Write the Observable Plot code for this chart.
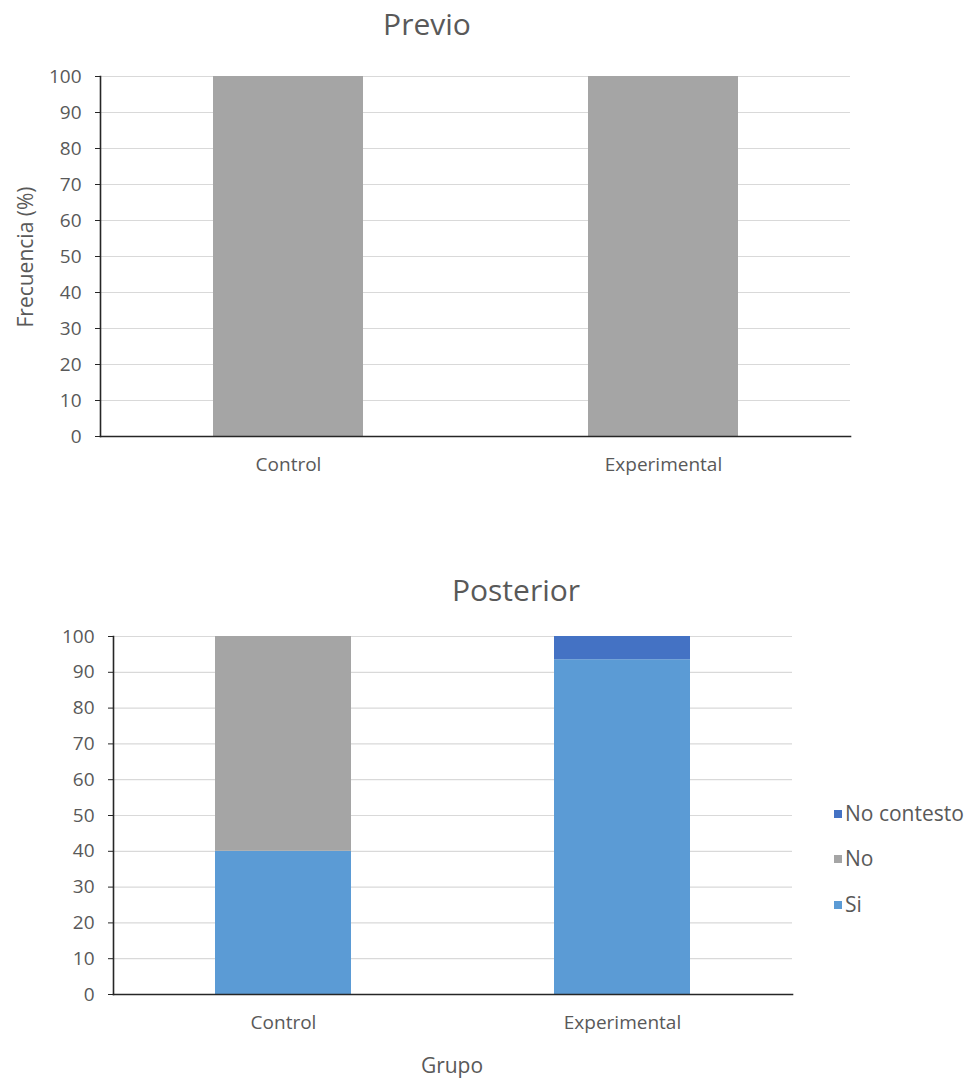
<!DOCTYPE html>
<html>
<head>
<meta charset="utf-8">
<script src="https://cdn.jsdelivr.net/npm/d3@7"></script>
<script src="https://cdn.jsdelivr.net/npm/@observablehq/plot@0.6"></script>
<style>
  html, body { margin: 0; padding: 0; background: #fff; }
  #page { position: relative; width: 977px; height: 1082px; font-family: "Open Sans", sans-serif; color: #595959; overflow: hidden; }
  .abs { position: absolute; line-height: 1; white-space: nowrap; }
  .title { font-size: 30px; transform: translateX(-50%); }
  .legend-item { font-size: 21px; }
  .swatch { position: absolute; width: 8px; height: 8px; }
</style>
</head>
<body>
<div id="page"></div>
<script>
// Groups and response categories
const grupos = ["Control", "Experimental"];
const respuestas = ["Si", "No", "No contesto"];
const colores = ["#5B9BD5", "#A5A5A5", "#4472C4"];
const yTicks = [0, 10, 20, 30, 40, 50, 60, 70, 80, 90, 100];

// Previo: frequency (%) per group
const previoSi = [0, 0];
const previoNo = [100, 100];
const previoNoContesto = [0, 0];

// Posterior: frequency (%) per group
const posteriorSi = [40, 93.5];
const posteriorNo = [60, 0];
const posteriorNoContesto = [0, 6.5];

function toRows(si, no, nc) {
  const rows = [];
  grupos.forEach((g, i) => {
    rows.push({grupo: g, respuesta: "Si", valor: si[i]});
    rows.push({grupo: g, respuesta: "No", valor: no[i]});
    rows.push({grupo: g, respuesta: "No contesto", valor: nc[i]});
  });
  return rows;
}

const page = document.getElementById("page");
const ink = "#595959";
const axisInk = "#262626";

function panel(rows, {top, height, marginTop, marginBottom, marginLeft, marginRight}) {
  const chart = Plot.plot({
    width: 977,
    height,
    marginTop, marginBottom, marginLeft, marginRight,
    style: {fontFamily: "Open Sans, sans-serif", fontSize: "18px", color: ink, background: "transparent", overflow: "visible"},
    x: {domain: grupos, paddingInner: 0.6, paddingOuter: 0.3, label: null},
    y: {domain: [0, 100], label: null},
    color: {domain: respuestas, range: colores},
    marks: [
      Plot.gridY(yTicks, {stroke: "#D9D9D9", strokeOpacity: 1, strokeWidth: 1.2}),
      Plot.barY(rows, {x: "grupo", y: "valor", fill: "respuesta", order: respuestas}),
      Plot.axisY(yTicks, {tickSize: 5, tickPadding: 14, stroke: axisInk, fill: ink, fontSize: 19, label: null}),
      Plot.axisX({tickSize: 0, tickPadding: 21, fill: ink, fontSize: 19, label: null}),
      Plot.frame({anchor: "left", stroke: axisInk, strokeWidth: 1.6}),
      Plot.frame({anchor: "bottom", stroke: axisInk, strokeWidth: 1.6})
    ]
  });
  chart.style.position = "absolute";
  chart.style.left = "0px";
  chart.style.top = top + "px";
  page.appendChild(chart);
}

panel(toRows(previoSi, previoNo, previoNoContesto), {top: 0, height: 500, marginTop: 76, marginBottom: 64, marginLeft: 100, marginRight: 127});
panel(toRows(posteriorSi, posteriorNo, posteriorNoContesto), {top: 540, height: 542, marginTop: 96, marginBottom: 88, marginLeft: 113, marginRight: 185});

function addText(text, cls, left, top, extra) {
  const d = document.createElement("div");
  d.className = "abs " + cls;
  d.textContent = text;
  d.style.left = left + "px";
  d.style.top = top + "px";
  if (extra) Object.assign(d.style, extra);
  page.appendChild(d);
  return d;
}

// Titles
addText("Previo", "title", 427, 9);
addText("Posterior", "title", 516, 575);

// Axis titles
addText("Frecuencia (%)", "", 25, 257, {fontSize: "21px", transform: "translate(-50%, -50%) rotate(-90deg)"});
addText("Grupo", "", 452, 1055, {fontSize: "21px", transform: "translateX(-50%)"});

// Legend (top entry is the top of the stack)
const legendY = {"No contesto": 814, "No": 859, "Si": 905};
respuestas.slice().reverse().forEach(r => {
  const cy = legendY[r];
  const sw = document.createElement("div");
  sw.className = "swatch";
  sw.style.left = "834px";
  sw.style.top = (cy - 4) + "px";
  sw.style.background = colores[respuestas.indexOf(r)];
  page.appendChild(sw);
  addText(r, "legend-item", 845, cy - 11);
});
</script>
</body>
</html>
